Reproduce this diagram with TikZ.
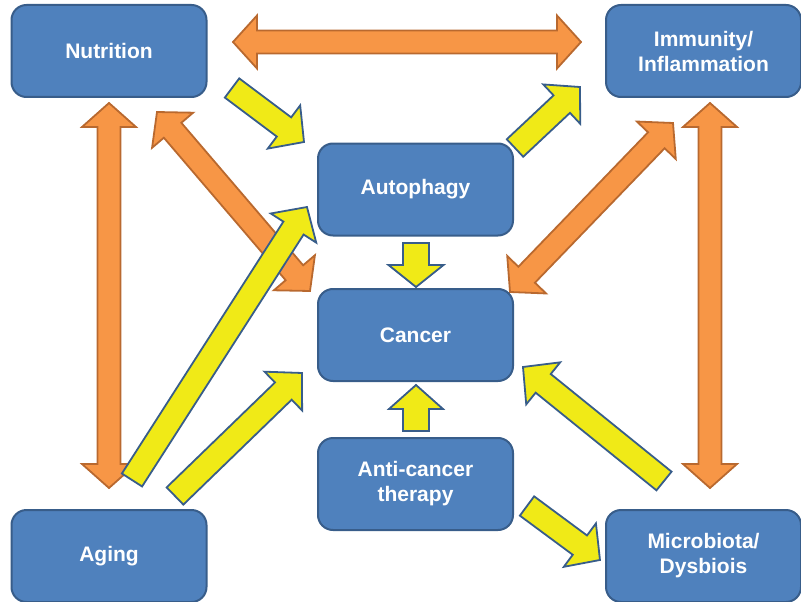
\documentclass[tikz,border=0pt]{standalone}
\usepackage{fontspec}
\setmainfont{Liberation Sans}
\usetikzlibrary{calc}
\definecolor{boxfill}{HTML}{4F81BD}
\definecolor{boxline}{HTML}{385D8A}
\definecolor{orfill}{HTML}{F79646}
\definecolor{orline}{HTML}{B9692F}
\definecolor{yefill}{HTML}{F0EA17}
\newdimen\fadx \newdimen\fady
\newcommand\faprep[2]{%
  \pgfextractx{\fadx}{\pgfpointdiff{\pgfpointanchor{#1}{center}}{\pgfpointanchor{#2}{center}}}%
  \pgfextracty{\fady}{\pgfpointdiff{\pgfpointanchor{#1}{center}}{\pgfpointanchor{#2}{center}}}%
  \pgfmathsetmacro\faang{atan2(\the\fady,\the\fadx)}%
  \pgfmathsetmacro\falen{veclen(\the\fadx,\the\fady)}}
% single fat arrow: style, from, to, shaft half, head half, head length
\newcommand\fatarrow[6]{%
  \faprep{#2}{#3}%
  \pgfmathsetmacro\fab{\falen-#6}%
  \begin{scope}[shift={(#2)},rotate=\faang]
    \draw[#1] (0pt,-#4pt) -- (\fab pt,-#4pt) -- (\fab pt,-#5pt) -- (\falen pt,0pt)
      -- (\fab pt,#5pt) -- (\fab pt,#4pt) -- (0pt,#4pt) -- cycle;
  \end{scope}}
% double fat arrow
\newcommand\dblarrow[6]{%
  \faprep{#2}{#3}%
  \pgfmathsetmacro\fab{\falen-#6}%
  \begin{scope}[shift={(#2)},rotate=\faang]
    \draw[#1] (0pt,0pt) -- (#6pt,#5pt) -- (#6pt,#4pt) -- (\fab pt,#4pt) -- (\fab pt,#5pt)
      -- (\falen pt,0pt) -- (\fab pt,-#5pt) -- (\fab pt,-#4pt) -- (#6pt,-#4pt) -- (#6pt,-#5pt) -- cycle;
  \end{scope}}
\tikzset{
  box/.style={draw=boxline, line width=2pt, fill=boxfill, rounded corners=15pt,
    minimum width=195pt, minimum height=92pt, text=white, align=center,
    font=\fontsize{21}{25}\selectfont\bfseries, inner sep=0pt},
  orarrow/.style={draw=orline, fill=orfill, line width=1.8pt, line join=miter},
  yearrow/.style={draw=boxline, fill=yefill, line width=1.8pt, line join=miter}
}
\begin{document}
\begin{tikzpicture}[x=1pt,y=-1pt]
\useasboundingbox (0,0) rectangle (801,602);
% coordinates for arrow ends
\coordinate (o1a) at (233,42);  \coordinate (o1b) at (581,42);
\coordinate (o2a) at (109,103); \coordinate (o2b) at (109,488);
\coordinate (o3a) at (157,112); \coordinate (o3b) at (310,291);
\coordinate (o4a) at (673,123); \coordinate (o4b) at (510,292);
\coordinate (o5a) at (710,103); \coordinate (o5b) at (710,488);
\coordinate (y1a) at (232,88);  \coordinate (y1b) at (304,142);
\coordinate (y2a) at (515,148); \coordinate (y2b) at (580,87);
\coordinate (y3a) at (416,243); \coordinate (y3b) at (416,287);
\coordinate (y4a) at (132,480); \coordinate (y4b) at (307,207);
\coordinate (y5a) at (175,496); \coordinate (y5b) at (302,373);
\coordinate (y6a) at (416,431); \coordinate (y6b) at (416,385);
\coordinate (y7a) at (664,481); \coordinate (y7b) at (523,367);
\coordinate (y8a) at (527,506); \coordinate (y8b) at (600,560);
% orange double arrows
\dblarrow{orarrow}{o1a}{o1b}{11.5}{26.5}{24}
\dblarrow{orarrow}{o2a}{o2b}{11.5}{27}{24}
\dblarrow{orarrow}{o3a}{o3b}{11.5}{27}{24}
\dblarrow{orarrow}{o4a}{o4b}{11.5}{27}{24}
\dblarrow{orarrow}{o5a}{o5b}{11.5}{27}{24}
% yellow arrows
\fatarrow{yearrow}{y1a}{y1b}{12}{27}{25}
\fatarrow{yearrow}{y2a}{y2b}{12}{27}{25}
\fatarrow{yearrow}{y3a}{y3b}{13}{27.5}{22}
\fatarrow{yearrow}{y4a}{y4b}{12}{27}{25}
\fatarrow{yearrow}{y5a}{y5b}{12}{27}{26}
\fatarrow{yearrow}{y6a}{y6b}{13}{27}{24}
\fatarrow{yearrow}{y7a}{y7b}{12}{27}{26}
\fatarrow{yearrow}{y8a}{y8b}{12}{27}{25}
% boxes
\node[box] (nut) at (109,51) {Nutrition};
\node[box] (imm) at (703.5,51) {Immunity/\\Inflammation};
\node[box] (aut) at (415.5,189.5) {Autophagy};
\node[box] (can) at (415.5,335) {Cancer};
\node[box] (anti) at (415.5,484) {Anti-cancer\\therapy};
\node[box] (age) at (109,556) {Aging};
\node[box] (mic) at (703.5,556) {Microbiota/\\Dysbiois};
\end{tikzpicture}
\end{document}
